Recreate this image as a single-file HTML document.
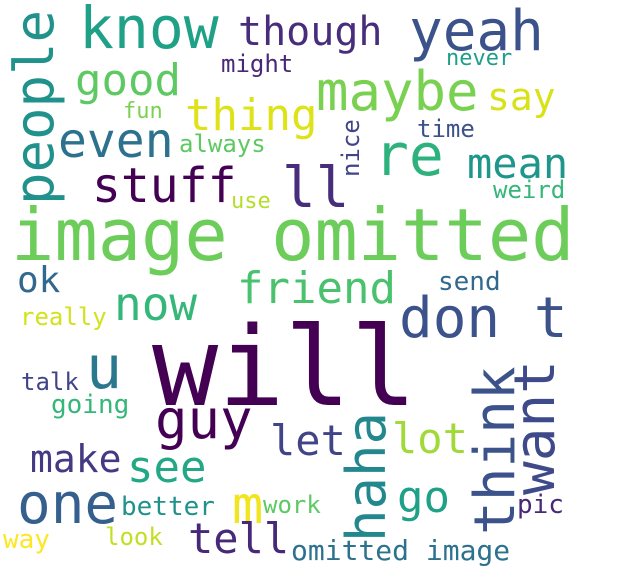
<!DOCTYPE html>
<html><head><meta charset="utf-8">
<style>
html,body{margin:0;padding:0;background:#fff;}
svg{display:block;}
text{font-family:"DejaVu Sans Mono","Liberation Mono",monospace;}
</style></head>
<body>
<svg id="cloud" width="624" height="587" viewBox="0 0 624 587" xmlns="http://www.w3.org/2000/svg">
<rect width="624" height="587" fill="#ffffff"/>
</svg>
<script>
const words = ["image omitted","will","know","yeah","people","though","good","maybe","thing","say","might","never","fun","even","re","time","always","nice","mean","stuff","ll","use","weird","ok","now","friend","don t","send","really","u","talk","going","think","want","haha","guy","let","lot","make","see","one","go","m","tell","better","work","pic","way","look","omitted image"];
const sizes = [72,110,58,56,54,40,44,54,44,38,24,22,22,48,58,24,24,24,42,48,56,22,24,36,46,44,56,26,24,60,24,26,56,56,54,54,42,42,38,44,56,44,52,42,26,24,26,26,24,28];
const colors = ["#6ccd5a","#440154","#1fa187","#3b528b","#21918c","#472d7b","#5ec962","#7ad151","#dde318","#d8e219","#482878","#1f9e89","#7ad151","#2c728e","#2db27d","#3b528b","#5ec962","#414487","#1f968b","#440154","#472d7b","#b5de2b","#35b779","#31688e","#35b779","#4ac16d","#3b528b","#31688e","#d2e21b","#2a788e","#414487","#35b779","#3b528b","#3e4a89","#23888e","#440154","#414487","#a0da39","#443983","#22a884","#355f8d","#1fa187","#f1e51d","#482878","#21918c","#5ec962","#482878","#fde725","#c2df23","#2c728e"];
const layoutX = [11,152,79,409,53,238,75,316,185,487,221,446,123,58,374,417,179,359,467,92,282,231,493,17,114,237,399,438,20,86,21,51,514,554,385,155,270,392,30,127,17,397,232,188,121,263,517,3,105,291];
const layoutY = [260,405,48,50,205,45,95,110,130,110,72,65,118,157,175,137,152,177,178,202,207,208,198,292,320,303,337,290,325,388,390,413,535,495,542,438,455,453,472,482,523,512,523,553,515,513,513,548,545,560];
const vertical = [0,0,0,0,1,0,0,0,0,0,0,0,0,0,0,0,0,1,0,0,0,0,0,0,0,0,0,0,0,0,0,0,1,1,1,0,0,0,0,0,0,0,0,0,0,0,0,0,0,0];
const svg = document.getElementById('cloud');
for (let i = 0; i < words.length; i++) {
  const t = document.createElementNS('http://www.w3.org/2000/svg','text');
  t.setAttribute('x', layoutX[i]);
  t.setAttribute('y', layoutY[i]);
  t.setAttribute('font-size', sizes[i]);
  t.setAttribute('fill', colors[i]);
  if (vertical[i]) t.setAttribute('transform', 'rotate(-90 ' + layoutX[i] + ' ' + layoutY[i] + ')');
  t.textContent = words[i];
  
  
  svg.appendChild(t);
}
</script>
</body></html>
